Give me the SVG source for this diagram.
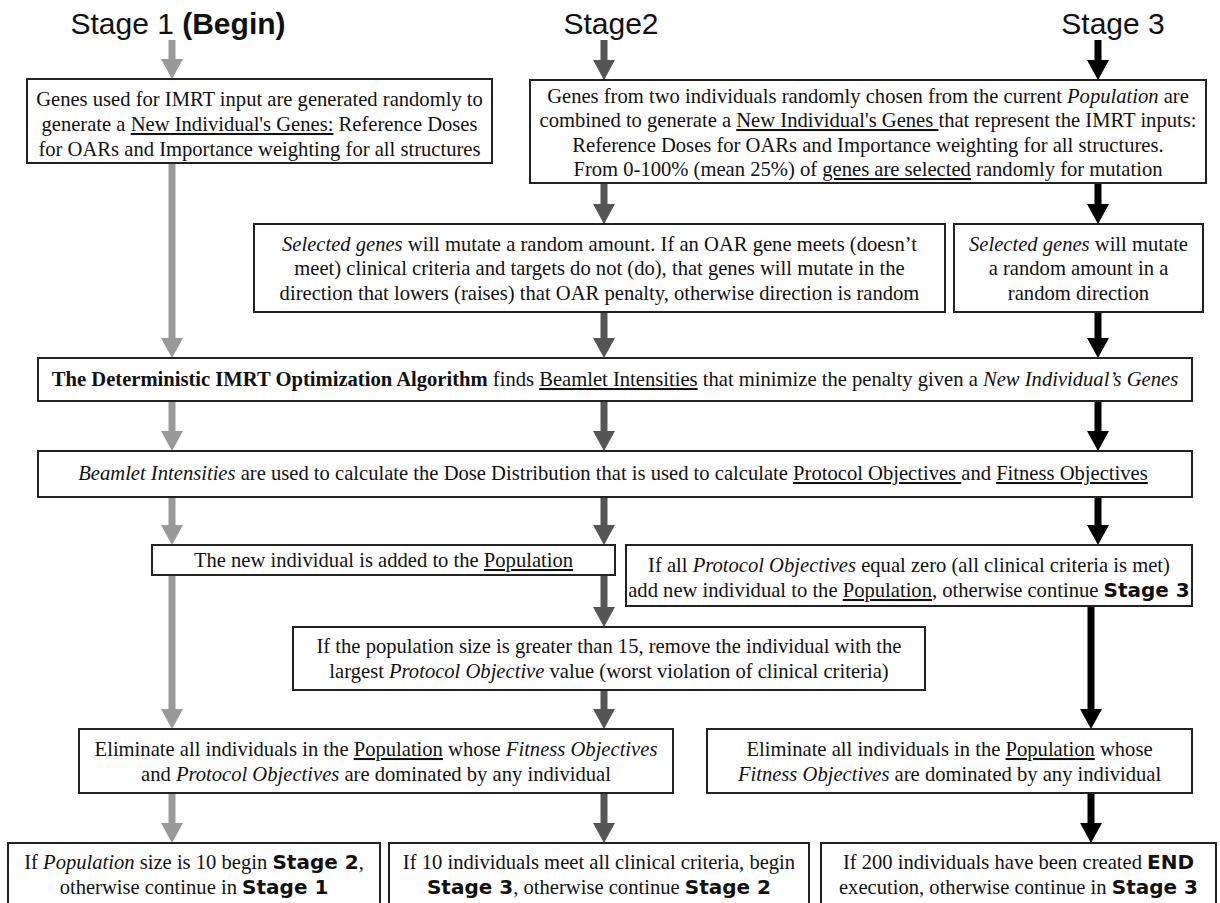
<svg xmlns="http://www.w3.org/2000/svg" width="1220" height="903" viewBox="0 0 1220 903">
<style>
.box{fill:#fff;stroke:#222;stroke-width:2}
.t{font-family:"Liberation Serif",serif;font-size:20.6px;fill:#111;text-anchor:middle}
.i{font-style:italic}
.u{text-decoration:underline}
.b{font-weight:bold}
.s{font-family:"DejaVu Sans",sans-serif;font-weight:bold;font-size:20px}
.title{font-family:"Liberation Sans",Arial,sans-serif;font-size:30px;fill:#111;text-anchor:middle}
.a1{stroke:#999;stroke-width:7;fill:none}
.a2{stroke:#555;stroke-width:7;fill:none}
.a3{stroke:#000;stroke-width:7;fill:none}
</style>
<defs>
<marker id="h1" viewBox="0 0 20 22" refX="0" refY="11" markerWidth="20" markerHeight="22" markerUnits="userSpaceOnUse" orient="auto"><path d="M0,0 L20,11 L0,22 z" fill="#999"/></marker>
<marker id="h2" viewBox="0 0 20 22" refX="0" refY="11" markerWidth="20" markerHeight="22" markerUnits="userSpaceOnUse" orient="auto"><path d="M0,0 L20,11 L0,22 z" fill="#555"/></marker>
<marker id="h3" viewBox="0 0 20 22" refX="0" refY="11" markerWidth="20" markerHeight="22" markerUnits="userSpaceOnUse" orient="auto"><path d="M0,0 L20,11 L0,22 z" fill="#000"/></marker>
</defs>
<rect width="1220" height="903" fill="#fff"/>

<g id="titles">
<text class="title" x="178" y="34">Stage 1 <tspan font-weight="bold">(Begin)</tspan></text>
<text class="title" x="611" y="34">Stage2</text>
<text class="title" x="1113" y="34">Stage 3</text>
</g>

<g id="connectors">
<line class="a1" x1="172" y1="40" x2="172" y2="59" marker-end="url(#h1)"/>
<line class="a1" x1="172" y1="163" x2="172" y2="338" marker-end="url(#h1)"/>
<line class="a1" x1="172" y1="401" x2="172" y2="431" marker-end="url(#h1)"/>
<line class="a1" x1="172" y1="497" x2="172" y2="525" marker-end="url(#h1)"/>
<line class="a1" x1="172" y1="575" x2="172" y2="709" marker-end="url(#h1)"/>
<line class="a1" x1="172" y1="793" x2="172" y2="823" marker-end="url(#h1)"/>

<line class="a2" x1="604" y1="40" x2="604" y2="60" marker-end="url(#h2)"/>
<line class="a2" x1="604" y1="183" x2="604" y2="204" marker-end="url(#h2)"/>
<line class="a2" x1="604" y1="312" x2="604" y2="338" marker-end="url(#h2)"/>
<line class="a2" x1="604" y1="401" x2="604" y2="431" marker-end="url(#h2)"/>
<line class="a2" x1="604" y1="497" x2="604" y2="525" marker-end="url(#h2)"/>
<line class="a2" x1="604" y1="575" x2="604" y2="607" marker-end="url(#h2)"/>
<line class="a2" x1="604" y1="690" x2="604" y2="709" marker-end="url(#h2)"/>
<line class="a2" x1="604" y1="793" x2="604" y2="823" marker-end="url(#h2)"/>

<line class="a3" x1="1098" y1="40" x2="1098" y2="60" marker-end="url(#h3)"/>
<line class="a3" x1="1098" y1="183" x2="1098" y2="204" marker-end="url(#h3)"/>
<line class="a3" x1="1098" y1="312" x2="1098" y2="338" marker-end="url(#h3)"/>
<line class="a3" x1="1098" y1="401" x2="1098" y2="431" marker-end="url(#h3)"/>
<line class="a3" x1="1098" y1="497" x2="1098" y2="525" marker-end="url(#h3)"/>
<line class="a3" x1="1091" y1="606" x2="1091" y2="709" marker-end="url(#h3)"/>
<line class="a3" x1="1091" y1="793" x2="1091" y2="823" marker-end="url(#h3)"/>
</g>

<g id="n1">
<rect class="box" x="27" y="79" width="465" height="84"/>
<text class="t" x="259.5" y="106">Genes used for IMRT input are generated randomly to</text>
<text class="t" x="259.5" y="131">generate a <tspan class="u">New Individual's Genes:</tspan> Reference Doses</text>
<text class="t" x="259.5" y="156">for OARs and Importance weighting for all structures</text>
</g>

<g id="n2">
<rect class="box" x="530" y="80" width="676" height="103"/>
<text class="t" x="868" y="103">Genes from two individuals randomly chosen from the current <tspan class="i">Population</tspan> are</text>
<text class="t" x="868" y="127">combined to generate a <tspan class="u">New Individual's Genes </tspan>that represent the IMRT inputs:</text>
<text class="t" x="868" y="152">Reference Doses for OARs and Importance weighting for all structures.</text>
<text class="t" x="868" y="176">From 0-100% (mean 25%) of <tspan class="u">genes are selected</tspan> randomly for mutation</text>
</g>

<g id="n3">
<rect class="box" x="254" y="224" width="691" height="88"/>
<text class="t" x="599.5" y="251"><tspan class="i">Selected genes</tspan> will mutate a random amount.  If an OAR gene meets (doesn’t</text>
<text class="t" x="599.5" y="275">meet) clinical criteria and targets do not (do), that genes will mutate in the</text>
<text class="t" x="599.5" y="300">direction that lowers (raises) that OAR penalty, otherwise direction is random</text>
</g>

<g id="n4">
<rect class="box" x="954" y="224" width="249" height="88"/>
<text class="t" x="1078.5" y="251"><tspan class="i">Selected genes</tspan> will mutate</text>
<text class="t" x="1078.5" y="275">a random amount in a</text>
<text class="t" x="1078.5" y="300">random direction</text>
</g>

<g id="n5">
<rect class="box" x="38" y="358" width="1154" height="43"/>
<text class="t" x="615" y="386"><tspan class="b">The Deterministic IMRT Optimization Algorithm</tspan> finds <tspan class="u">Beamlet Intensities</tspan> that  minimize the penalty given a <tspan class="i">New Individual’s Genes</tspan></text>
</g>

<g id="n6">
<rect class="box" x="38" y="451" width="1154" height="46"/>
<text class="t" x="613" y="480"><tspan class="i">Beamlet Intensities</tspan> are used to calculate the Dose Distribution that is used to calculate <tspan class="u">Protocol Objectives </tspan>and <tspan class="u">Fitness Objectives</tspan></text>
</g>

<g id="n7">
<rect class="box" x="152" y="545" width="463" height="30"/>
<text class="t" x="383.5" y="567">The new individual is added to the <tspan class="u">Population</tspan></text>
</g>

<g id="n8">
<rect class="box" x="626" y="545" width="566" height="61"/>
<text class="t" x="909" y="572">If all <tspan class="i">Protocol Objectives</tspan> equal zero (all clinical criteria is met)</text>
<text class="t" x="909" y="597">add new individual to the <tspan class="u">Population</tspan>, otherwise continue <tspan class="s">Stage 3</tspan></text>
</g>

<g id="n9">
<rect class="box" x="293" y="627" width="632" height="63"/>
<text class="t" x="609" y="653">If the population size is greater than 15, remove the individual with the</text>
<text class="t" x="609" y="678">largest <tspan class="i">Protocol Objective</tspan> value (worst violation of clinical criteria)</text>
</g>

<g id="n10">
<rect class="box" x="79" y="729" width="594" height="64"/>
<text class="t" x="376" y="756">Eliminate all individuals in the <tspan class="u">Population</tspan> whose <tspan class="i">Fitness Objectives</tspan></text>
<text class="t" x="376" y="781">and <tspan class="i">Protocol Objectives</tspan> are dominated by any individual</text>
</g>

<g id="n11">
<rect class="box" x="707" y="729" width="485" height="64"/>
<text class="t" x="949.5" y="756">Eliminate all individuals in the <tspan class="u">Population</tspan> whose</text>
<text class="t" x="949.5" y="781"><tspan class="i">Fitness Objectives</tspan> are dominated by any individual</text>
</g>

<g id="n12">
<rect class="box" x="8" y="843" width="372" height="70"/>
<text class="t" x="194" y="869">If <tspan class="i">Population</tspan> size is 10 begin <tspan class="s">Stage 2</tspan>,</text>
<text class="t" x="194" y="894">otherwise continue in <tspan class="s">Stage 1</tspan></text>
</g>

<g id="n13">
<rect class="box" x="389" y="843" width="420" height="70"/>
<text class="t" x="599" y="869">If 10 individuals meet all clinical criteria, begin</text>
<text class="t" x="599" y="894"><tspan class="s">Stage 3</tspan>, otherwise continue <tspan class="s">Stage 2</tspan></text>
</g>

<g id="n14">
<rect class="box" x="821" y="843" width="395" height="70"/>
<text class="t" x="1018.5" y="869">If 200 individuals have been created <tspan class="s">END</tspan></text>
<text class="t" x="1018.5" y="894">execution, otherwise continue in <tspan class="s">Stage 3</tspan></text>
</g>
</svg>
